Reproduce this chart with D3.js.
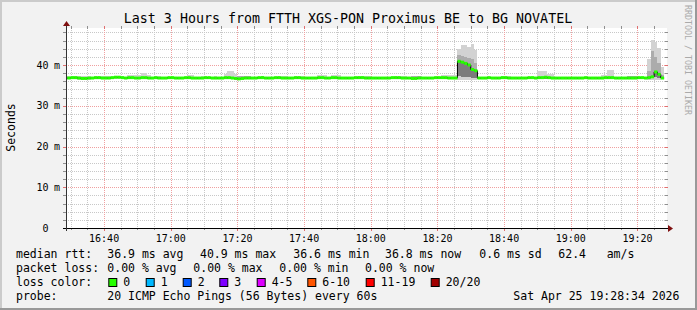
<!DOCTYPE html>
<html>
<head>
<meta charset="utf-8">
<script src="https://cdn.jsdelivr.net/npm/d3@7"></script>
<style>
  html, body { margin: 0; padding: 0; background: #f2f2f2; }
  svg { display: block; }
  text { font-family: "DejaVu Sans Mono", monospace; fill: #000; }
</style>
</head>
<body>
<div id="chart"></div>
<script>
// ---- data ----
const title = "Last 3 Hours from FTTH XGS-PON Proximus BE to BG NOVATEL";
const yTitle = "Seconds";
const yTickValues = [0, 10, 20, 30, 40];
const yTickUnits = ["", "m", "m", "m", "m"];
const viewStart = new Date(2026, 3, 25, 16, 28, 34);
const viewEnd = new Date(2026, 3, 25, 19, 28, 34);
const firstSample = new Date(2026, 3, 25, 16, 28); // one value per minute from here

// median rtt (ms), one per minute
const median = [
  36.8,36.8,36.9,36.9,36.8,36.7,36.7,36.8,36.8,36.9,
  36.9,36.8,36.8,36.8,36.9,37.0,37.0,36.9,36.8,36.9,
  36.9,36.8,36.8,36.9,36.9,36.8,36.8,36.9,36.8,36.8,
  36.8,36.9,36.9,36.8,36.8,36.8,36.9,36.9,36.8,36.8,
  36.8,36.8,36.9,36.9,36.8,36.8,36.8,36.8,36.9,36.9,
  36.8,36.7,36.6,36.7,36.8,36.8,36.8,36.8,36.9,36.9,
  36.8,36.8,36.8,36.9,36.9,36.8,36.8,36.8,36.8,36.9,
  36.9,36.8,36.8,36.8,36.8,36.8,36.9,36.9,36.8,36.8,
  36.9,36.9,36.8,36.8,36.8,36.8,36.8,36.9,36.9,36.9,
  36.8,36.8,36.8,36.8,36.8,36.8,36.8,36.8,36.9,36.9,
  36.9,36.8,36.8,36.8,36.7,36.7,36.8,36.8,36.8,36.8,
  36.8,36.9,36.9,36.9,36.9,36.8,36.8,36.8,40.9,40.7,
  40.4,40.0,38.9,38.6,36.8,36.8,36.8,36.9,36.8,36.8,
  36.8,36.9,36.9,36.8,36.8,36.8,36.8,36.8,36.8,36.9,
  36.9,36.8,36.9,36.9,37.0,36.9,36.8,36.8,36.8,36.8,
  36.8,36.8,36.8,36.8,36.8,36.8,36.9,36.8,36.8,36.8,
  36.8,36.8,36.9,36.9,36.9,36.8,36.8,36.8,36.8,36.8,
  36.8,36.8,36.9,36.9,36.8,36.9,37.1,38.3,37.7,36.8
];
// slowest ping of the minute (ms)
const pingMax = [
  37.4,37.4,37.4,37.4,37.4,37.3,37.3,37.3,37.1,37.4,
  37.4,37.4,37.4,37.4,37.1,37.2,37.2,37.2,37.1,37.6,
  37.6,37.6,37.6,38.1,38.1,37.6,37.1,37.4,37.4,37.1,
  37.1,37.1,37.1,37.1,37.1,37.1,37.1,37.6,37.6,37.1,
  37.1,37.2,37.2,37.1,37.1,37.2,37.1,37.1,37.8,38.5,
  38.5,37.9,37.3,37.3,37.3,37.3,37.1,37.1,37.1,37.4,
  37.1,37.1,37.1,37.1,37.4,37.4,37.4,37.1,37.1,37.4,
  37.4,37.4,37.1,37.1,37.1,37.1,37.6,37.6,37.6,37.1,
  37.6,37.6,37.6,37.1,37.1,37.1,37.1,37.1,37.4,37.4,
  37.4,37.4,37.1,37.1,37.1,37.1,37.1,37.1,37.1,37.4,
  37.4,37.4,37.4,37.1,37.2,37.2,37.2,37.1,37.1,37.1,
  37.1,37.1,37.1,37.5,37.5,37.5,37.5,37.5,43.9,44.9,
  44.9,44.5,45.1,43.7,37.1,37.1,37.1,37.1,37.1,37.1,
  37.1,37.4,37.4,37.4,37.1,37.1,37.1,37.1,37.1,37.1,
  37.1,37.1,38.6,38.6,38.6,37.9,37.9,37.1,37.1,37.1,
  37.1,37.1,37.1,37.1,37.1,37.1,37.1,37.1,37.1,37.1,
  37.1,37.6,37.6,38.7,38.7,37.1,37.1,37.1,37.1,37.2,
  37.2,37.2,37.1,37.1,37.1,41.4,46.1,45.7,44.1,39.6
];
// upper edge of the dense part of the smoke (ms)
const pingHigh = [
  37.0,37.0,37.0,37.0,37.0,37.0,37.0,37.0,37.0,37.0,
  37.0,37.0,37.0,37.0,37.0,37.0,37.0,37.0,37.0,37.0,
  37.0,37.0,37.0,37.0,37.0,37.0,37.0,37.0,37.0,37.0,
  37.0,37.0,37.0,37.0,37.0,37.0,37.0,37.0,37.0,37.0,
  37.0,37.0,37.0,37.0,37.0,37.0,37.0,37.0,37.0,37.0,
  37.0,37.0,37.2,37.2,37.2,37.2,37.0,37.0,37.0,37.3,
  37.0,37.0,37.0,37.0,37.0,37.0,37.0,37.0,37.0,37.0,
  37.0,37.0,37.0,37.0,37.0,37.0,37.0,37.0,37.0,37.0,
  37.0,37.0,37.0,37.0,37.0,37.0,37.0,37.0,37.0,37.0,
  37.0,37.0,37.0,37.0,37.0,37.0,37.0,37.0,37.0,37.0,
  37.0,37.0,37.0,37.0,37.2,37.2,37.2,37.0,37.0,37.0,
  37.0,37.0,37.0,37.0,37.0,37.0,37.0,37.0,42.5,42.3,
  42.0,41.8,41.5,40.5,37.0,37.0,37.0,37.0,37.0,37.0,
  37.0,37.0,37.0,37.0,37.0,37.0,37.0,37.0,37.0,37.0,
  37.0,37.0,37.0,37.0,37.0,37.0,37.0,37.0,37.0,37.0,
  37.0,37.0,37.0,37.0,37.0,37.0,37.0,37.0,37.0,37.0,
  37.0,37.0,37.0,37.0,37.0,37.0,37.0,37.0,37.0,37.2,
  37.2,37.2,37.0,37.0,37.0,38.5,43.5,42.0,40.5,37.6
];
// lower edge of the dense part of the smoke (ms)
const pingLow = [
  36.6,36.6,36.6,36.6,36.5,36.5,36.5,36.5,36.6,36.6,
  36.6,36.6,36.6,36.6,36.6,36.7,36.7,36.6,36.6,36.6,
  36.6,36.6,36.6,36.6,36.6,36.6,36.6,36.6,36.6,36.6,
  36.6,36.6,36.6,36.6,36.6,36.6,36.6,36.6,36.6,36.6,
  36.6,36.6,36.6,36.6,36.6,36.6,36.6,36.6,36.6,36.6,
  36.6,36.5,36.5,36.5,36.6,36.6,36.6,36.6,36.6,36.6,
  36.6,36.6,36.6,36.6,36.6,36.6,36.6,36.6,36.6,36.6,
  36.6,36.6,36.6,36.6,36.6,36.6,36.6,36.6,36.6,36.6,
  36.6,36.6,36.6,36.6,36.6,36.6,36.6,36.6,36.6,36.6,
  36.6,36.6,36.6,36.6,36.6,36.6,36.6,36.6,36.6,36.6,
  36.6,36.6,36.6,36.6,36.5,36.5,36.6,36.6,36.6,36.6,
  36.6,36.6,36.6,36.6,36.6,36.6,36.6,36.6,37.2,37.1,
  37.0,37.0,36.9,36.9,36.6,36.6,36.6,36.6,36.6,36.6,
  36.6,36.6,36.6,36.6,36.6,36.6,36.6,36.6,36.6,36.6,
  36.6,36.6,36.6,36.6,36.6,36.6,36.6,36.6,36.6,36.6,
  36.6,36.6,36.6,36.6,36.6,36.6,36.6,36.6,36.6,36.6,
  36.6,36.6,36.6,36.6,36.6,36.6,36.6,36.6,36.6,36.6,
  36.6,36.6,36.6,36.6,36.6,36.7,36.9,37.0,36.9,36.6
];
// fastest ping of the minute (ms)
const pingMin = [
  36.5,36.5,36.5,36.5,36.3,36.3,36.3,36.3,36.5,36.5,
  36.5,36.5,36.5,36.5,36.5,36.5,36.5,36.5,36.5,36.5,
  36.5,36.5,36.5,36.5,36.5,36.5,36.5,36.5,36.5,36.5,
  36.5,36.5,36.5,36.5,36.5,36.5,36.5,36.5,36.5,36.5,
  36.5,36.5,36.5,36.5,36.5,36.5,36.5,36.5,36.5,36.5,
  36.5,36.4,36.4,36.4,36.5,36.5,36.5,36.5,36.5,36.5,
  36.5,36.5,36.5,36.5,36.5,36.5,36.5,36.5,36.5,36.5,
  36.5,36.5,36.5,36.5,36.5,36.5,36.5,36.5,36.5,36.5,
  36.5,36.5,36.5,36.5,36.5,36.5,36.5,36.5,36.5,36.5,
  36.5,36.5,36.5,36.5,36.5,36.5,36.5,36.5,36.5,36.5,
  36.5,36.5,36.5,36.5,36.4,36.4,36.5,36.5,36.5,36.5,
  36.5,36.5,36.5,36.5,36.5,36.5,36.5,36.5,36.4,36.4,
  36.4,36.4,36.4,36.4,36.5,36.5,36.5,36.5,36.5,36.5,
  36.5,36.5,36.5,36.5,36.5,36.5,36.5,36.5,36.5,36.5,
  36.5,36.5,36.5,36.5,36.5,36.5,36.5,36.5,36.5,36.5,
  36.5,36.5,36.5,36.5,36.5,36.5,36.5,36.5,36.5,36.5,
  36.5,36.5,36.5,36.5,36.5,36.5,36.5,36.5,36.5,36.5,
  36.5,36.5,36.5,36.5,36.5,36.4,36.4,36.4,36.4,36.5
];

const rttLabel = "median rtt:";
const rttStats = ["36.9 ms avg", "40.9 ms max", "36.6 ms min", "36.8 ms now", "0.6 ms sd", "62.4", "am/s"];
const lossLabel = "packet loss:";
const lossStats = ["0.00 % avg", "0.00 % max", "0.00 % min", "0.00 % now"];
const colorLabel = "loss color:";
const lossNames = ["0", "1", "2", "3", "4-5", "6-10", "11-19", "20/20"];
const lossColors = ["#26ff00", "#00b8ff", "#0059ff", "#7e00ff", "#dd00ff", "#ff5500", "#ff0000", "#a10000"];
const probeLabel = "probe:";
const probeText = "20 ICMP Echo Pings (56 Bytes) every 60s";
const stampText = "Sat Apr 25 19:28:34 2026";
const watermark = "RRDTOOL / TOBI OETIKER";

// ---- drawing ----
const W = 697, H = 310;
const svg = d3.select("#chart").append("svg").attr("width", W).attr("height", H);

// frame
svg.append("rect").attr("width", W).attr("height", H).attr("fill", "#f2f2f2");
svg.append("path").attr("d", `M0,0H${W}V2H2V${H}H0Z`).attr("fill", "#cbcbcb");
svg.append("path").attr("d", `M${W},${H}H0V${H - 2}H${W - 2}V0H${W}Z`).attr("fill", "#999999");

const x = d3.scaleTime().domain([viewStart, viewEnd]).range([66, 666]);
const y = d3.scaleLinear().domain([0, 49.08]).range([228, 28]);
const x0 = 66, x1 = 666, yTop = 28, yBot = 228;

svg.append("rect").attr("x", x0).attr("y", yTop).attr("width", x1 - x0 + 1).attr("height", yBot - yTop).attr("fill", "#fff");

svg.append("defs").append("clipPath").attr("id", "plotclip")
  .append("rect").attr("x", x0).attr("y", yTop).attr("width", x1 - x0).attr("height", yBot - yTop);

const px = v => Math.round(v) + 0.5;

// grid
const grid = svg.append("g");
const minorX = x.ticks(d3.timeMinute.every(5)).filter(d => d.getMinutes() % 20 !== 0);
const majorX = x.ticks(d3.timeMinute.every(20));
const minorY = d3.range(2, 49, 2).filter(v => v % 10 !== 0);
const majorY = yTickValues.filter(v => v > 0);

function vGrid(list, color, tickColor, tickLen) {
  list.forEach(d => {
    const xx = px(x(d));
    grid.append("line").attr("x1", xx).attr("x2", xx).attr("y1", yTop).attr("y2", yBot)
      .attr("stroke", color).attr("stroke-dasharray", "1,1");
    grid.append("line").attr("x1", xx).attr("x2", xx).attr("y1", yTop - 2).attr("y2", yTop + 1).attr("stroke", tickColor);
    grid.append("line").attr("x1", xx).attr("x2", xx).attr("y1", yBot).attr("y2", yBot + tickLen).attr("stroke", tickColor);
  });
}
function hGrid(list, color, tickColor) {
  list.forEach(v => {
    const yy = px(y(v));
    grid.append("line").attr("x1", x0).attr("x2", x1).attr("y1", yy).attr("y2", yy)
      .attr("stroke", color).attr("stroke-dasharray", "1,1");
    grid.append("line").attr("x1", x0 - 3).attr("x2", x0 + 1).attr("y1", yy).attr("y2", yy).attr("stroke", tickColor);
    grid.append("line").attr("x1", x1 - 1).attr("x2", x1 + 2).attr("y1", yy).attr("y2", yy).attr("stroke", tickColor);
  });
}
vGrid(minorX, "#c8c8c8", "#909090", 2);
hGrid(minorY, "#c8c8c8", "#909090");
vGrid(majorX, "#f0a0a0", "#e07070", 3);
hGrid(majorY, "#f0a0a0", "#e07070");

// smoke + median
const samples = median.map((m, i) => ({
  t0: d3.timeMinute.offset(firstSample, i),
  t1: d3.timeMinute.offset(firstSample, i + 1),
  med: m, max: pingMax[i], hi: pingHigh[i], lo: pingLow[i], min: pingMin[i]
}));

const plot = svg.append("g").attr("clip-path", "url(#plotclip)");

function band(key0, key1, color) {
  plot.append("g").selectAll("rect").data(samples).join("rect")
    .attr("x", d => x(d.t0)).attr("width", d => x(d.t1) - x(d.t0))
    .attr("y", d => y(d[key1])).attr("height", d => Math.max(0, y(d[key0]) - y(d[key1])))
    .attr("fill", color).attr("shape-rendering", "crispEdges");
}
band("min", "max", "#d2d2d2");
band("med", "hi", "#acacac");
band("lo", "med", "#7c7c7c");

const stepLine = d3.line().curve(d3.curveStepAfter).x(d => x(d.t)).y(d => y(d.v));
const stepPts = samples.map(d => ({ t: d.t0, v: d.med }))
  .concat([{ t: samples[samples.length - 1].t1, v: samples[samples.length - 1].med }]);
plot.append("path").attr("d", stepLine(stepPts)).attr("fill", "none").attr("stroke", "#000").attr("stroke-width", 1);

plot.append("g").selectAll("line").data(samples).join("line")
  .attr("x1", d => x(d.t0)).attr("x2", d => x(d.t1))
  .attr("y1", d => y(d.med)).attr("y2", d => y(d.med))
  .attr("stroke", lossColors[0]).attr("stroke-width", 3);

// axes
svg.append("line").attr("x1", x0 - 3).attr("x2", x1 + 3).attr("y1", yBot + 0.5).attr("y2", yBot + 0.5).attr("stroke", "#000");
svg.append("line").attr("x1", x0 + 0.5).attr("x2", x0 + 0.5).attr("y1", yBot + 3).attr("y2", yTop - 3).attr("stroke", "#333");
svg.append("path").attr("d", `M${x1 + 2},${yBot - 3}L${x1 + 7},${yBot + 0.5}L${x1 + 2},${yBot + 4}Z`).attr("fill", "#7f1010");
svg.append("path").attr("d", `M${x0 - 3},${yTop - 2}L${x0 + 0.5},${yTop - 7}L${x0 + 4},${yTop - 2}Z`).attr("fill", "#7f1010");

// tick labels
svg.append("g").selectAll("text").data(majorX).join("text")
  .attr("x", d => x(d)).attr("y", 241.5).attr("text-anchor", "middle")
  .attr("font-size", 10).text(d3.timeFormat("%H:%M"));

const yl = svg.append("g");
yTickValues.forEach((v, i) => {
  yl.append("text").attr("x", 48.5).attr("y", y(v) + 3.5).attr("text-anchor", "end").attr("font-size", 10).text(v);
  yl.append("text").attr("x", 54).attr("y", y(v) + 3.5).attr("font-size", 10).text(yTickUnits[i]);
});

svg.append("text").attr("transform", "translate(10.5,127.5) rotate(-90)")
  .attr("text-anchor", "middle").attr("dominant-baseline", "central")
  .attr("font-size", 11.5).text(yTitle);

svg.append("text").attr("x", 348).attr("y", 23).attr("text-anchor", "middle")
  .attr("font-size", 13.3).text(title);

svg.append("text").attr("transform", "translate(685,5) rotate(90)")
  .attr("font-size", 8.3).style("fill", "#aaa")
  .attr("textLength", 110).attr("lengthAdjust", "spacing").text(watermark);

// legend
const lg = svg.append("g").attr("font-size", 11.5);
const rows = [258, 272, 286, 300];
const put = (tx, xx, yy) => lg.append("text").attr("x", xx).attr("y", yy).attr("xml:space", "preserve").text(tx);

put(rttLabel, 16, rows[0]);
const rttX = [107.3, 200, 293.3, 385, 479.3, 558.3, 606.7];
rttStats.forEach((s, i) => put(s, rttX[i], rows[0]));

put(lossLabel, 16, rows[1]);
const lossX = [107.3, 193.3, 279.3, 365];
lossStats.forEach((s, i) => put(s, lossX[i], rows[1]));

put(colorLabel, 16, rows[2]);
const boxX = [108.3, 145.7, 182.7, 219.3, 256.7, 307.3, 365.7, 430.7];
lossNames.forEach((n, i) => {
  lg.append("rect").attr("x", boxX[i] + 0.5).attr("y", 278.5).attr("width", 8).attr("height", 8)
    .attr("fill", lossColors[i]).attr("stroke", "#000").attr("stroke-width", 1);
  put(n, boxX[i] + 15, rows[2]);
});

put(probeLabel, 16, rows[3]);
put(probeText, 107.3, rows[3]);
put(stampText, 513.3, rows[3]);
</script>
</body>
</html>
